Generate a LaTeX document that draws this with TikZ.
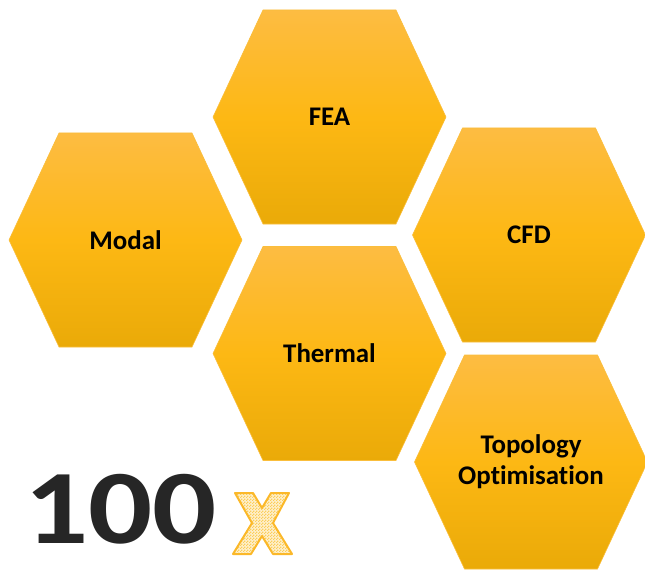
\documentclass[tikz,border=0pt]{standalone}
\usepackage{fontspec}
\setmainfont[Ligatures=NoCommon]{Carlito}
\usetikzlibrary{patterns}
\definecolor{hexTop}{RGB}{253,188,66}
\definecolor{hexMid}{RGB}{253,184,20}
\definecolor{hexBot}{RGB}{234,170,8}
\definecolor{hexEdge}{RGB}{250,190,60}
\definecolor{numGray}{RGB}{38,38,38}
\definecolor{xEdge}{RGB}{251,184,41}
\definecolor{xFill}{RGB}{252,206,90}
\pgfdeclarepatternformonly{finechecker}{\pgfpointorigin}{\pgfqpoint{3bp}{3bp}}{\pgfqpoint{3bp}{3bp}}{%
  \pgfpathrectangle{\pgfpointorigin}{\pgfqpoint{1.5bp}{1.5bp}}%
  \pgfpathrectangle{\pgfqpoint{1.5bp}{1.5bp}}{\pgfqpoint{1.5bp}{1.5bp}}%
  \pgfusepath{fill}}
\tikzset{
  hexfill/.style={top color=hexTop, bottom color=hexBot, middle color=hexMid, draw=hexEdge, line width=0.6bp},
  lbl/.style={font=\fontsize{27}{31}\selectfont\bfseries, text=black, align=center, inner sep=0pt}
}
\newcommand\honeycell[3]{%
  \path[hexfill] (#2) ++(-116.5,0) -- ++(50,-107) -- ++(133,0) -- ++(50,107) -- ++(-50,107) -- ++(-133,0) -- cycle;
  \node[lbl] (#1) at (#2) {#3};
}
\begin{document}
\begin{tikzpicture}[x=1bp,y=-1bp]
\useasboundingbox (0,0) rectangle (645,570);
\honeycell{fea}{329.5,117}{FEA}
\honeycell{modal}{125.5,240}{Modal}
\honeycell{cfd}{529,235}{CFD}
\honeycell{thermal}{329.5,353.5}{Thermal}
\honeycell{topo}{531,462}{Topology\\Optimisation}
\node[anchor=base west, inner sep=0pt, text=numGray, font=\fontsize{106}{106}\selectfont\bfseries] (hundred) at (24,543) {\scalebox{1.2}[1]{100}};
\path[fill=white!70!xFill] (235,493) -- (253,493) -- (262,508) -- (271,493) -- (289,493) -- (273,523) -- (292,554) -- (273,554) -- (262,536) -- (251,554) -- (233,554) -- (252,523) -- cycle;
\path[pattern=finechecker, pattern color=xFill] (235,493) -- (253,493) -- (262,508) -- (271,493) -- (289,493) -- (273,523) -- (292,554) -- (273,554) -- (262,536) -- (251,554) -- (233,554) -- (252,523) -- cycle;
\draw[xEdge, line width=2bp, line join=round] (235,493) -- (253,493) -- (262,508) -- (271,493) -- (289,493) -- (273,523) -- (292,554) -- (273,554) -- (262,536) -- (251,554) -- (233,554) -- (252,523) -- cycle;
\end{tikzpicture}
\end{document}
